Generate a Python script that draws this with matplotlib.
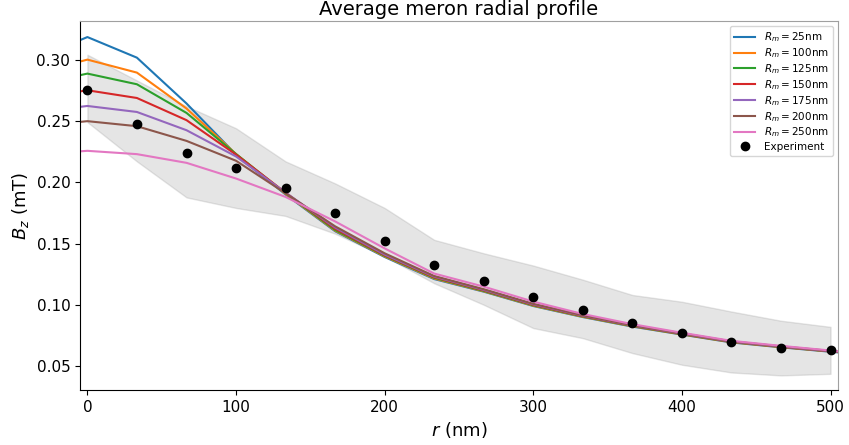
import numpy as np
import matplotlib
matplotlib.use("Agg")
import matplotlib.pyplot as plt

# experimental radial positions (nm)
r_exp = [0, 33.3, 66.7, 100, 133.3, 166.7, 200, 233.3, 266.7, 300,
         333.3, 366.7, 400, 433.3, 466.7, 500]
b_exp = [0.275, 0.2476, 0.224, 0.2117, 0.195, 0.175, 0.1523, 0.1322, 0.1192,
         0.1064, 0.0959, 0.0850, 0.0769, 0.0698, 0.0649, 0.0633]
b_upper = [0.304, 0.283, 0.262, 0.244, 0.217, 0.199, 0.179, 0.153, 0.142,
           0.132, 0.1205, 0.108, 0.1025, 0.0945, 0.087, 0.082]
b_lower = [0.249, 0.217, 0.1876, 0.179, 0.1725, 0.158, 0.1395, 0.1176, 0.100,
           0.081, 0.0728, 0.0606, 0.0511, 0.0448, 0.0424, 0.0437]

# simulated profiles (nm)
r_sim = [-33.3, 0, 33.3, 66.7, 100, 133.3, 166.7, 200, 233.3, 266.7, 300,
         333.3, 366.7, 400, 433.3, 466.7, 500, 533.3]
labels = ["25", "100", "125", "150", "175", "200", "250"]
sim_25 = [0.3016, 0.3184, 0.3016, 0.2642, 0.2225, 0.190, 0.160, 0.139, 0.121, 0.1107, 0.099, 0.090, 0.0822, 0.0757, 0.0693, 0.0653, 0.0617, 0.0585]
sim_100 = [0.2894, 0.300, 0.2894, 0.2601, 0.223, 0.1905, 0.1605, 0.1395, 0.1215, 0.111, 0.0993, 0.0903, 0.0825, 0.0759, 0.0695, 0.0655, 0.0619, 0.0587]
sim_125 = [0.2799, 0.2886, 0.2799, 0.2565, 0.223, 0.191, 0.161, 0.140, 0.122, 0.1113, 0.0996, 0.0906, 0.0827, 0.0761, 0.0697, 0.0657, 0.062, 0.0588]
sim_150 = [0.2687, 0.275, 0.2687, 0.2506, 0.2225, 0.1915, 0.162, 0.1405, 0.1225, 0.1118, 0.100, 0.0909, 0.083, 0.0763, 0.0699, 0.0658, 0.0621, 0.0589]
sim_175 = [0.2573, 0.2622, 0.2573, 0.2424, 0.221, 0.1915, 0.163, 0.141, 0.123, 0.1122, 0.1004, 0.0912, 0.0832, 0.0765, 0.070, 0.0659, 0.0622, 0.059]
sim_200 = [0.2457, 0.2498, 0.2457, 0.2337, 0.2175, 0.191, 0.164, 0.142, 0.1235, 0.1127, 0.1008, 0.0915, 0.0834, 0.0767, 0.0702, 0.0661, 0.0624, 0.0591]
sim_250 = [0.2229, 0.2256, 0.2229, 0.2158, 0.203, 0.188, 0.168, 0.146, 0.1255, 0.1148, 0.1026, 0.0925, 0.0842, 0.0772, 0.0706, 0.0665, 0.0627, 0.0594]
sims = [sim_25, sim_100, sim_125, sim_150, sim_175, sim_200, sim_250]

fig = plt.figure(figsize=(8.49, 4.45), dpi=100)
ax = fig.add_axes([0.0942, 0.1236, 0.8928, 0.8292])

ax.fill_between(r_exp, b_lower, b_upper, color="grey", alpha=0.2)
for lab, s in zip(labels, sims):
    ax.plot(r_sim, s, lw=1.5, label=r"$R_m = $" + lab + "nm")
ax.plot(r_exp, b_exp, "o", color="black", ms=6, label="Experiment", zorder=5)

ax.set_xlim(-5, 505)
ax.set_ylim(0.0305, 0.3315)
ax.set_xticks([0, 100, 200, 300, 400, 500])
ax.set_yticks([0.05, 0.10, 0.15, 0.20, 0.25, 0.30])
ax.tick_params(labelsize=11)
ax.set_xlabel(r"$r$ (nm)", fontsize=13)
ax.set_ylabel(r"$B_z$ (mT)", fontsize=13)
ax.set_title("Average meron radial profile", fontsize=14, pad=4)
for side in ("top", "right"):
    ax.spines[side].set_color("#a0a0a0")
ax.legend(loc="upper right", fontsize=7.5, labelspacing=0.2)

fig.savefig("out.png", dpi=100)
